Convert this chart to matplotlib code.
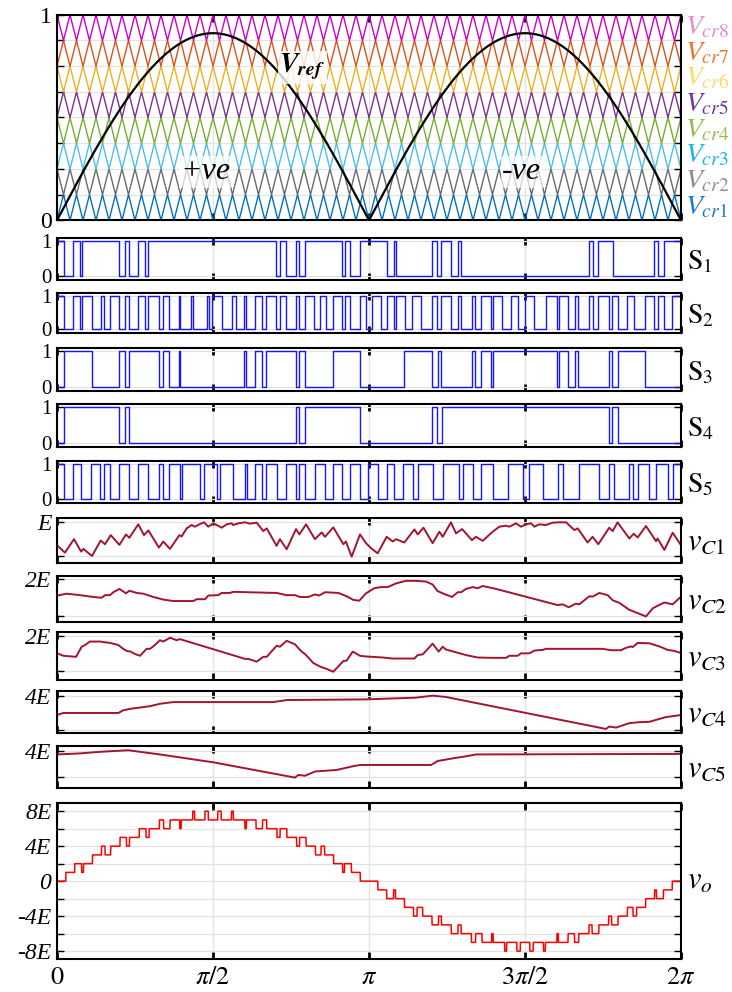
import numpy as np
import matplotlib
matplotlib.use('Agg')
import matplotlib.pyplot as plt

plt.rcParams['mathtext.fontset'] = 'stix'
plt.rcParams['font.family'] = ['Liberation Serif', 'DejaVu Serif']

W, H = 732, 992
X0, X1 = 57, 681

# ---------------- data ----------------
n_levels = 8
carrier_ratio = 48          # carrier periods per fundamental cycle
m_index = 0.91              # peak of the rectified reference
carrier_colors = ['#0072BD', '#6a6a6a', '#4DBEEE', '#77AC30',
                  '#7E2F8E', '#EDB120', '#D95319', '#CC00CC']
carrier_label_colors = ['#1f78cf', '#8c8c8c', '#12b6f0', '#93bb55',
                        '#7232a0', '#ffd966', '#ef7626', '#e58bd0']
carrier_labels = [r'$V_{cr%d}$' % k for k in range(1, 9)]

# switching signals: initial state and toggle instants (degrees)
s1_init = 1
s1_toggles = [4.2, 9.4, 13.3, 14.6, 35.8, 39.4, 41.3, 46.7, 50.6, 52.5,
              126.3, 128.6, 132.1, 137.9, 139.8, 143.3, 164.2, 166.0, 169.0, 174.8,
              190.2, 194.2, 195.4, 216.2, 219.2, 221.5, 227.3, 231.2, 233.1,
              306.7, 309.0, 312.3, 320.6, 344.6, 346.5, 350.0]
s2_init = 1
s2_toggles = [4.2, 9.4, 13.3, 14.6, 20.0, 25.2, 27.1, 30.6, 35.8, 39.4, 41.3, 46.7,
              50.6, 52.5, 58.7, 61.0, 64.8, 70.2, 71.2, 77.1, 78.7, 86.3, 87.7, 89.6,
              95.0, 101.0, 103.0, 108.1, 109.0, 114.2, 118.1, 120.4, 126.3, 128.6,
              132.1, 137.9, 139.8, 143.3, 148.0, 152.0, 155.0, 159.4, 164.2, 166.0,
              169.0, 174.8, 178.0, 182.0, 187.0, 190.2, 194.2, 195.4, 201.0, 205.0,
              210.0, 216.2, 219.2, 221.5, 227.3, 231.2, 233.1, 239.4, 241.3, 244.6,
              250.4, 251.5, 257.0, 262.0, 266.0, 270.0, 275.0, 282.0, 288.3, 289.4,
              295.0, 299.0, 300.8, 306.7, 309.0, 312.3, 318.3, 320.2, 323.5, 329.0,
              333.0, 339.4, 344.6, 346.5, 350.0, 355.0]
s3_init = 0
s3_toggles = [4.2, 20.0, 35.8, 39.4, 41.3, 58.7, 61.0, 64.8, 70.2, 71.2,
              108.1, 109.0, 114.2, 118.1, 120.4, 137.7, 139.8, 143.3, 159.4, 174.8,
              200.0, 216.2, 219.6, 221.5, 239.4, 241.3, 244.6, 250.4, 251.5,
              288.3, 289.4, 295.0, 299.0, 300.8, 318.3, 320.2, 323.5, 339.4]
s4_init = 0
s4_toggles = [4.2, 35.8, 39.4, 41.3, 137.7, 139.8, 143.3, 174.8,
              216.2, 219.2, 221.9, 318.3, 320.2, 323.5]
s5_init = 1
s5_toggles = [4.2, 9.4, 13.7, 19.4, 24.8, 27.3, 30.6, 35.8, 41.3, 46.7, 52.5, 58.7,
              61.3, 64.8, 71.0, 71.9, 82.5, 84.8, 92.1, 94.0, 101.7, 108.5, 109.4,
              114.2, 118.1, 120.4, 126.7, 132.1, 137.9, 139.8, 143.3, 148.8, 154.6,
              159.4, 164.2, 169.0, 174.8, 179.5, 185.0, 190.2, 194.6, 199.4, 205.2,
              208.1, 216.7, 222.5, 232.1, 234.0, 239.8, 244.6, 251.3, 260.0, 268.7,
              272.5, 280.2, 288.9, 291.7, 301.4, 312.9, 318.6, 321.5, 330.2, 332.1,
              335.0, 341.7, 345.6, 352.3, 355.2]

# capacitor voltages (degrees, value between the lower and upper gridline)
vc1_deg = [0.2, 4.6, 9.8, 13.9, 15.2, 20.2, 25.2, 27.7, 31.0, 36.0, 39.8, 41.7, 46.9, 50.2,
           52.7, 58.8, 61.3, 65.2, 70.6, 71.9, 74.8, 77.7, 79.6, 82.1, 84.8, 87.3, 90.2,
           92.1, 95.0, 97.9, 100.8, 101.7, 104.6, 108.5, 111.4, 115.2, 119.0, 121.0,
           126.7, 128.6, 132.5, 137.9, 139.8, 143.7, 148.8, 152.7, 154.6, 159.4, 165.2,
           166.7, 170.0, 174.8, 178.3, 181.2, 185.0, 190.2, 193.7, 195.6, 200.4, 206.2,
           208.1, 211.4, 216.7, 220.6, 222.5, 227.3, 230.2, 233.7, 239.4, 241.7, 245.6,
           251.3, 255.2, 259.0, 261.0, 264.8, 267.7, 270.6, 273.5, 275.4, 278.3, 282.1,
           286.0, 289.8, 293.7, 298.5, 300.4, 306.1, 309.0, 312.3, 318.6, 320.6, 323.4,
           330.2, 332.7, 335.0, 339.8, 345.6, 346.5, 350.4, 355.2, 360.0]
vc1_val = [0.31, 0.10, 0.50, 0.13, 0.21, 0.0, 0.46, 0.35, 0.62, 0.33, 0.64, 0.54, 0.94, 0.62,
           0.76, 0.25, 0.43, 0.21, 0.62, 0.58, 0.82, 0.92, 0.87, 0.94, 1.0, 0.87, 0.97,
           0.92, 0.84, 0.94, 0.97, 0.92, 0.97, 1.0, 0.96, 0.99, 0.74, 0.82,
           0.30, 0.50, 0.20, 0.80, 0.64, 0.94, 0.50, 0.70, 0.57, 0.85, 0.35,
           0.43, -0.02, 0.64, 0.38, 0.23, 0.08, 0.57, 0.43, 0.50, 0.40, 0.79,
           0.64, 0.84, 0.38, 0.72, 0.57, 1.0, 0.67, 0.80, 0.47, 0.57, 0.45,
           0.72, 0.87, 0.90, 0.87, 0.97, 0.87, 0.94, 0.97, 0.87, 0.94, 0.92,
           0.99, 1.0, 1.0, 0.77, 0.82, 0.40, 0.57, 0.35, 0.84, 0.74, 1.0,
           0.52, 0.66, 0.55, 0.89, 0.44, 0.52, 0.18, 0.69, 0.32]
vc2_deg = [0.2, 5.6, 13.3, 21.0, 25.8, 27.7, 30.6, 32.5, 36.0, 39.8, 41.7, 46.0, 49.8, 55.6,
           61.3, 67.1, 78.6, 80.6, 85.4, 87.3, 93.1, 95.0, 99.8, 101.7, 126.7, 132.5,
           137.3, 140.2, 145.0, 148.8, 151.3, 154.6, 162.3, 167.1, 171.0, 174.4, 178.3,
           183.1, 186.9, 190.8, 195.6, 201.3, 207.1, 212.9, 216.7, 219.6, 222.5, 227.9,
           231.2, 233.1, 236.0, 239.8, 242.7, 245.6, 253.3, 288.8, 291.7, 295.2, 299.4,
           301.3, 307.1, 309.0, 312.9, 317.7, 320.6, 324.4, 330.2, 334.0, 339.8, 343.7,
           345.6, 350.4, 355.2, 360.0]
vc2_val = [0.55, 0.60, 0.56, 0.51, 0.49, 0.56, 0.56, 0.64, 0.73, 0.61, 0.68, 0.62, 0.60, 0.51,
           0.44, 0.40, 0.40, 0.45, 0.45, 0.55, 0.56, 0.62, 0.62, 0.65, 0.62, 0.56,
           0.56, 0.51, 0.51, 0.58, 0.55, 0.64, 0.62, 0.53, 0.43, 0.41, 0.61,
           0.75, 0.78, 0.78, 0.88, 0.95, 0.95, 0.93, 0.85, 0.67, 0.61, 0.51,
           0.64, 0.64, 0.73, 0.78, 0.75, 0.81, 0.73, 0.29, 0.31, 0.23, 0.33,
           0.31, 0.53, 0.52, 0.62, 0.56, 0.42, 0.35, 0.16, 0.09, -0.02, 0.20,
           0.25, 0.36, 0.31, 0.52]
vc3_deg = [0.2, 3.7, 11.0, 14.2, 16.2, 19.0, 24.8, 30.6, 35.4, 37.9, 40.2, 42.5, 45.0, 47.9,
           51.7, 53.7, 56.0, 59.4, 61.3, 65.2, 69.0, 71.0, 72.9, 108.5, 110.4, 115.2,
           119.0, 121.0, 126.7, 128.6, 132.5, 137.3, 141.1, 143.1, 147.9, 151.7, 155.6,
           159.4, 161.3, 165.2, 167.1, 170.6, 174.8, 178.3, 187.9, 193.7, 206.2, 208.1,
           211.0, 216.7, 220.2, 222.5, 224.4, 230.2, 236.0, 242.7, 251.3, 259.0, 261.0,
           265.8, 267.7, 272.5, 275.4, 280.2, 282.1, 314.8, 319.6, 325.4, 328.3, 331.2,
           332.1, 335.0, 341.7, 347.5, 352.3, 356.1, 360.0]
vc3_val = [0.50, 0.43, 0.40, 0.69, 0.74, 0.84, 0.84, 0.80, 0.74, 0.64, 0.57, 0.55, 0.48, 0.43,
           0.63, 0.63, 0.72, 0.88, 0.84, 0.95, 0.88, 0.91, 0.88, 0.34, 0.34, 0.26,
           0.40, 0.40, 0.72, 0.69, 0.86, 0.76, 0.55, 0.48, 0.22, 0.12, 0.05,
           -0.03, 0.07, 0.28, 0.29, 0.55, 0.43, 0.41, 0.38, 0.35, 0.35, 0.45,
           0.47, 0.78, 0.55, 0.69, 0.61, 0.53, 0.45, 0.38, 0.37, 0.37, 0.43,
           0.43, 0.50, 0.50, 0.58, 0.60, 0.63, 0.63, 0.59, 0.59, 0.66, 0.70,
           0.68, 0.80, 0.79, 0.70, 0.60, 0.57, 0.51]
vc4_deg = [0.0, 3.7, 35.4, 38.3, 42.1, 47.9, 53.7, 59.4, 67.1, 124.8, 132.5, 178.3,
           207.1, 216.7, 224.4, 316.7, 318.6, 322.5, 330.2, 336.0, 341.7, 351.4, 360.0]
vc4_val = [0.45, 0.51, 0.51, 0.59, 0.63, 0.67, 0.71, 0.78, 0.83, 0.83, 0.89, 0.91,
           0.96, 1.02, 0.98, 0.04, 0.11, 0.08, 0.21, 0.24, 0.25, 0.39, 0.45]
vc5_deg = [0.2, 13.3, 24.8, 41.2, 47.9, 59.4, 90.2, 137.3, 139.2, 143.1, 148.8, 161.3,
           170.0, 174.8, 215.8, 219.6, 228.3, 236.0, 241.7, 360.0]
vc5_val = [0.87, 0.91, 0.97, 1.03, 0.97, 0.87, 0.57, -0.01, 0.09, 0.06, 0.22, 0.28,
           0.41, 0.47, 0.47, 0.62, 0.72, 0.80, 0.87, 0.89]

# ---------------- helpers ----------------
fig = plt.figure(figsize=(W / 100, H / 100), dpi=100)


def make_ax(top, bottom):
    ax = fig.add_axes([X0 / W, 1 - bottom / H, (X1 - X0) / W, (bottom - top) / H])
    ax.set_xlim(0, 2 * np.pi)
    ax.set_xticks(np.pi * np.array([0, 0.5, 1, 1.5, 2]))
    ax.tick_params(axis='x', direction='in', top=True, bottom=True, length=5,
                   width=2, labelbottom=False)
    ax.tick_params(axis='y', direction='in', left=True, right=True, length=5,
                   width=1, pad=4)
    ax.grid(True, color='#e2e2e2', lw=0.9)
    ax.set_axisbelow(True)
    for s in ax.spines.values():
        s.set_linewidth(1.5)
    return ax


def step_xy(init, toggles):
    edges = np.radians([0] + list(toggles) + [360])
    states = [(init + i) % 2 for i in range(len(toggles) + 1)]
    return np.repeat(edges, 2)[1:-1], np.repeat(states, 2)


# ---------------- carriers and reference ----------------
t_vert = np.arange(2 * carrier_ratio + 1) * np.pi / carrier_ratio
t = np.linspace(0, 2 * np.pi, 6001)
ref = m_index * np.abs(np.sin(t))

ax = make_ax(14.7, 220.3)
ax.set_ylim(0, 1)
ax.set_yticks(np.arange(n_levels + 1) / n_levels)
ax.set_yticklabels(['0'] + [''] * (n_levels - 1) + ['1'], fontsize=17)
count = np.zeros_like(t)
for k in range(n_levels):
    shape = np.arange(len(t_vert)) % 2
    if k % 2 == 1:
        shape = 1 - shape
    cv = (k + shape) / n_levels
    ax.plot(t_vert, cv, color=carrier_colors[k], lw=1.0, clip_on=False)
    count += ref > np.interp(t, t_vert, cv)
    ax.text(1.006, (k + 0.5) / n_levels, carrier_labels[k], transform=ax.transAxes,
            color=carrier_label_colors[k], fontsize=20, va='center', ha='left')
ax.plot(t, ref, color='black', lw=1.6)
ax.text(2.47, 0.745, r'$\mathbfit{V}_{\mathbfit{ref}}$', fontsize=20, ha='center', va='center',
        bbox=dict(facecolor='white', edgecolor='none', alpha=0.8, pad=1))
for x, s in [(1.49, '+ve'), (4.68, '-ve')]:
    ax.text(x, 0.235, s, fontsize=23, style='italic', ha='center', va='center',
            bbox=dict(facecolor='white', edgecolor='none', alpha=0.7, pad=1))

# ---------------- switching signals ----------------
s_rows = [(238, 280), (293, 333), (348, 391), (404, 447), (461, 503)]
s_data = [(s1_init, s1_toggles), (s2_init, s2_toggles), (s3_init, s3_toggles),
          (s4_init, s4_toggles), (s5_init, s5_toggles)]
for i, ((top, bot), (init, tg)) in enumerate(zip(s_rows, s_data)):
    ax = make_ax(top, bot)
    x, y = step_xy(init, tg)
    ax.plot(x, y, color='#1515ff', lw=1.0)
    ax.set_ylim(-0.115, 1.095)
    ax.set_yticks([0, 1])
    ax.set_yticklabels(['0', '1'], fontsize=15)
    ax.text(1.01, 0.42, r'$\mathrm{S}_{%d}$' % (i + 1), transform=ax.transAxes,
            fontsize=20, va='center', ha='left')

# ---------------- capacitor voltages ----------------
vc_rows = [(517.7, 563, 1.137, -0.208, 'E'), (575.7, 621.7, 1.09, -0.163, '2E'),
           (631.7, 679.7, 1.124, -0.26, '2E'), (690.7, 733.3, 1.165, -0.088, '4E'),
           (746.3, 787.7, 1.18, -0.395, '4E')]
vc_data = [(vc1_deg, vc1_val), (vc2_deg, vc2_val), (vc3_deg, vc3_val),
           (vc4_deg, vc4_val), (vc5_deg, vc5_val)]
for i, ((top, bot, yt, yb, lab), (xd, yv)) in enumerate(zip(vc_rows, vc_data)):
    ax = make_ax(top, bot)
    ax.plot(np.radians(xd), yv, color='#a2142f', lw=1.4)
    ax.set_ylim(yb, yt)
    ax.set_yticks([0, 1])
    ax.set_yticklabels(['', lab], fontsize=17, style='italic')
    ax.text(1.01, 0.45, r'$v_{C%d}$' % (i + 1), transform=ax.transAxes,
            fontsize=22, va='center', ha='left')

# ---------------- output voltage ----------------
vo = np.sign(np.sin(t)) * count
ax = make_ax(803.3, 959)
ax.plot(t, vo, color='#ff0000', lw=1.1)
ax.set_ylim(-8.9, 8.9)
ax.set_yticks(np.arange(-8, 9, 2))
ax.set_yticklabels(['-8E', '', '-4E', '', '0', '', '4E', '', '8E'], fontsize=17, style='italic')
ax.tick_params(axis='x', labelbottom=True, pad=6)
ax.set_xticklabels([r'$\mathit{0}$', r'$\pi/\mathit{2}$', r'$\pi$',
                    r'$\mathit{3}\pi/\mathit{2}$', r'$\mathit{2}\pi$'], fontsize=19)
ax.text(1.01, 0.5, r'$v_{o}$', transform=ax.transAxes, fontsize=22, va='center', ha='left')

fig.savefig('out.png', dpi=100)
